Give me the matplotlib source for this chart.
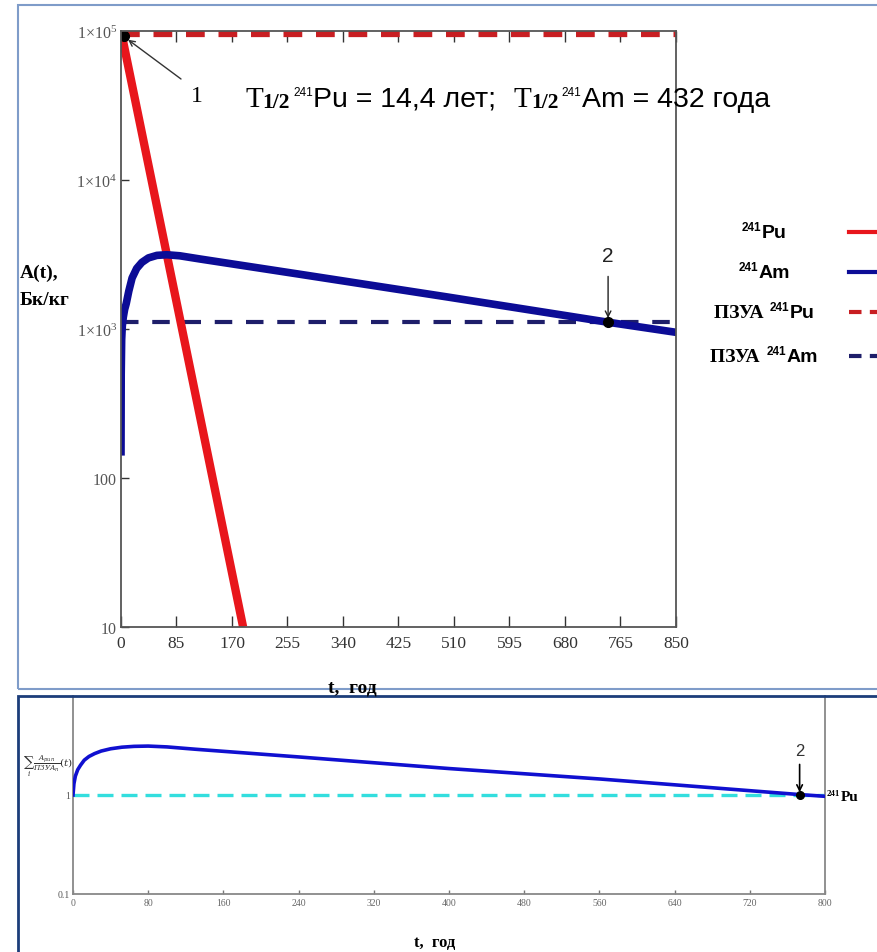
import matplotlib
matplotlib.use('Agg')
import matplotlib.pyplot as plt
from matplotlib.lines import Line2D
from matplotlib.patches import Rectangle
from matplotlib.transforms import IdentityTransform
from matplotlib.ticker import FixedLocator, NullLocator

W, H = 877, 953

# ---- top chart: activity, Bq/kg ----
t_pu = [0, 187]
a_pu = [1.0e5, 10]
t_am = [0, 0.3, 1, 2, 3.5, 5.5, 8, 12, 17, 24, 32, 42, 55, 70, 90, 121, 274, 500, 746, 850]
a_am = [150, 500, 850, 1050, 1200, 1350, 1480, 1800, 2200, 2550, 2800, 3000, 3120, 3150,
        3100, 2950, 2330, 1640, 1110, 950]
pzua_pu = 9.5e4
pzua_am = 1110
point1 = (4, 9.2e4)
point2 = (746, 1110)
top_xticks = [0, 85, 170, 255, 340, 425, 510, 595, 680, 765, 850]
top_yticks = [10, 100, 1e3, 1e4, 1e5]
top_ylabels = ['10', '100', r'$\mathregular{1{\times}10^{3}}$',
               r'$\mathregular{1{\times}10^{4}}$', r'$\mathregular{1{\times}10^{5}}$']

# ---- bottom chart: sum of A/PZUA ----
t_sum = [0, 1, 2.5, 5, 8, 12, 17, 23, 30, 40, 52, 65, 80, 100, 130, 241, 400, 561, 773, 800]
v_sum = [1.0, 1.3, 1.55, 1.8, 2.0, 2.25, 2.45, 2.62, 2.78, 2.93, 3.04, 3.1, 3.12, 3.06,
         2.9, 2.42, 1.85, 1.45, 1.01, 0.97]
sum_limit = 1.0
point2b = (773, 1.0)
bot_xticks = [0, 80, 160, 240, 320, 400, 480, 560, 640, 720, 800]
bot_yticks = [0.1, 1]
bot_ylabels = ['0.1', '1']

plt.rcParams['mathtext.fontset'] = 'stix'
SERIF = 'Liberation Serif'
SANS = 'Liberation Sans'

fig = plt.figure(figsize=(W / 100, H / 100), dpi=100)


def fx(x):
    return x / W


def fy(y):
    return 1 - y / H


# panel frames
fig.add_artist(Rectangle((18, H - 690), 900, 684, transform=IdentityTransform(),
                         fill=False, edgecolor='#7f9cc9', lw=1.5))
fig.add_artist(Rectangle((18, H - 1000), 900, 1000 - 697, transform=IdentityTransform(),
                         fill=False, edgecolor='#1c3d7a', lw=2.0))

# ============================================================
# Top chart
# ============================================================
ax = fig.add_axes([fx(121), fy(628), fx(676) - fx(121), fy(32) - fy(628)])
ax.set_yscale('log')
ax.plot(t_pu, a_pu, color='#e8161c', lw=6, solid_capstyle='butt', zorder=3)
ax.plot(t_am, a_am, color='#0c0c96', lw=5.5, zorder=3)
ax.axhline(pzua_pu, color='#c81e22', lw=4.5, ls=(0, (3, 2.2)), zorder=2)
ax.axhline(pzua_am, color='#1e1e6a', lw=3, ls=(0, (4.2, 3.3)), zorder=2)
ax.plot(*point1, 'o', color='black', ms=7, zorder=5)
ax.plot(*point2, 'o', color='black', ms=7, zorder=5)
ax.set_xlim(0, 850)
ax.set_ylim(10, 1e5)
ax.xaxis.set_major_locator(FixedLocator(top_xticks))
ax.yaxis.set_major_locator(FixedLocator(top_yticks))
ax.yaxis.set_minor_locator(NullLocator())
ax.set_yticklabels(top_ylabels)
ax.tick_params(axis='x', direction='in', length=8, width=1, color='#333', top=True,
               labelsize=12.5, labelcolor='#333', pad=6)
ax.tick_params(axis='y', direction='in', length=6, width=1, color='#333',
               labelsize=11.5, labelcolor='#555', pad=3)
for lab in ax.get_xticklabels() + ax.get_yticklabels():
    lab.set_fontfamily(SERIF)
for s in ax.spines.values():
    s.set_color('#555')
    s.set_linewidth(1.3)
    s.set_zorder(6)

ax.annotate('', xy=point1, xycoords='data', xytext=(181, H - 80),
            textcoords='figure pixels',
            arrowprops=dict(arrowstyle='->', color='#333', lw=1, shrinkA=0, shrinkB=4))
fig.text(fx(197), fy(97), '1', fontsize=17, family=SERIF, ha='center', va='center')
ax.annotate('', xy=point2, xycoords='data', xytext=(0, 33), textcoords='offset points',
            arrowprops=dict(arrowstyle='->', color='#222', lw=1, shrinkA=0, shrinkB=3))
ax.annotate('2', xy=point2, xycoords='data', xytext=(0, 48), textcoords='offset points',
            fontsize=15, family=SANS, ha='center', va='center', color='#222')

fig.text(fx(20), fy(287), 'A(t),\nБк/кг', fontsize=14, family=SERIF, fontweight='bold',
         ha='left', va='center', linespacing=1.8)
fig.text(fx(352), fy(688), 't,  год', fontsize=14, family=SERIF, fontweight='bold',
         ha='center', va='center')

renderer = fig.canvas.get_renderer()


def rich(x, y, pieces, ha='left', zorder=3):
    # pieces: (text, props, rise in px, gap after in px); x, y in image pixels (baseline)
    arts = []
    cx = 0
    for s, kw, rise, gap in pieces:
        t = fig.text(0, 0, s, transform=IdentityTransform(), va='baseline',
                     ha='left', zorder=zorder, **kw)
        w = t.get_window_extent(renderer).width
        arts.append((t, cx, rise))
        cx += w + gap
    x0 = x - cx / 2 if ha == 'center' else x
    for t, off, rise in arts:
        t.set_position((x0 + off, H - y + rise))
    return cx


big_s = dict(family=SERIF, fontsize=21)
half = dict(family=SERIF, fontsize=15.5, fontweight='bold')
sup = dict(family=SANS, fontsize=8.5)
txt = dict(family=SANS, fontsize=20.5)
rich(245, 107, [
    ('T', big_s, 0, 0), ('1/2', half, -1, 3), ('241', sup, 11, 0),
    ('Pu = 14,4 лет; ', txt, 0, 10),
    ('T', big_s, 0, 0), ('1/2', half, -1, 3), ('241', sup, 11, 0),
    ('Am = 432 года', txt, 0, 0),
], zorder=1)

# legend on the right
leg_ser = dict(family=SERIF, fontsize=14, fontweight='bold')
leg_sup = dict(family=SANS, fontsize=8.5, fontweight='bold')
leg_txt = dict(family=SANS, fontsize=14, fontweight='bold')
leg_rows = [
    ([('241', leg_sup, 7, 0), ('Pu', leg_txt, 0, 0)], 238, '#e8161c', '-'),
    ([('241', leg_sup, 7, 0), ('Am', leg_txt, 0, 0)], 278, '#0c0c96', '-'),
    ([('ПЗУА ', leg_ser, 0, 2), ('241', leg_sup, 7, 0), ('Pu', leg_txt, 0, 0)], 318, '#c81e22', '--'),
    ([('ПЗУА ', leg_ser, 0, 2), ('241', leg_sup, 7, 0), ('Am', leg_txt, 0, 0)], 362, '#1e1e6a', '--'),
]
for pieces, yb, col, ls in leg_rows:
    rich(764, yb, pieces, ha='center')
    fig.add_artist(Line2D([fx(849), fx(880)], [fy(yb - 5), fy(yb - 5)], color=col, lw=3,
                          ls=(0, (3, 2)) if ls == '--' else '-'))

# ============================================================
# Bottom chart
# ============================================================
bx = fig.add_axes([fx(73), fy(895), fx(825) - fx(73), fy(697) - fy(895)])
bx.set_yscale('log')
bx.plot(t_sum, v_sum, color='#1010d0', lw=2.6, zorder=3)
bx.axhline(sum_limit, color='#33dede', lw=2.4, ls=(0, (4.8, 2.4)), zorder=2)
bx.plot(*point2b, 'o', color='black', ms=5.5, zorder=5)
bx.set_xlim(0, 800)
bx.set_ylim(0.1, 10)
bx.xaxis.set_major_locator(FixedLocator(bot_xticks))
bx.yaxis.set_major_locator(FixedLocator(bot_yticks))
bx.yaxis.set_minor_locator(NullLocator())
bx.set_yticklabels(bot_ylabels)
bx.tick_params(axis='x', direction='in', length=3, width=1, color='#777',
               labelsize=7, labelcolor='#666', pad=3)
bx.tick_params(axis='y', length=0, labelsize=7, labelcolor='#555', pad=2)
for lab in bx.get_xticklabels() + bx.get_yticklabels():
    lab.set_fontfamily(SERIF)
bx.spines['top'].set_visible(False)
for k in ('left', 'bottom', 'right'):
    bx.spines[k].set_color('#888')
    bx.spines[k].set_linewidth(1.3)

bx.annotate('', xy=point2b, xycoords='data', xytext=(0, 22), textcoords='offset points',
            arrowprops=dict(arrowstyle='->', color='black', lw=1.2, shrinkA=0, shrinkB=2))
bx.annotate('2', xy=point2b, xycoords='data', xytext=(0, 32), textcoords='offset points',
            fontsize=12, family=SANS, ha='center', va='center', color='#333')

fig.text(fx(23), fy(766), r'$\sum_{i}\frac{A_{pun}}{ПЗУА_n}(t)$', fontsize=7.5,
         math_fontfamily='dejavuserif', ha='left', va='center', color='#333')
rich(827, 801, [('241', dict(family=SERIF, fontsize=6.5, fontweight='bold'), 5, 0),
                ('Pu', dict(family=SERIF, fontsize=11, fontweight='bold'), 0, 0)])
fig.text(fx(435), fy(943), 't,  год', fontsize=12, family=SERIF, fontweight='bold',
         ha='center', va='center')

fig.savefig('out.png', dpi=100)
